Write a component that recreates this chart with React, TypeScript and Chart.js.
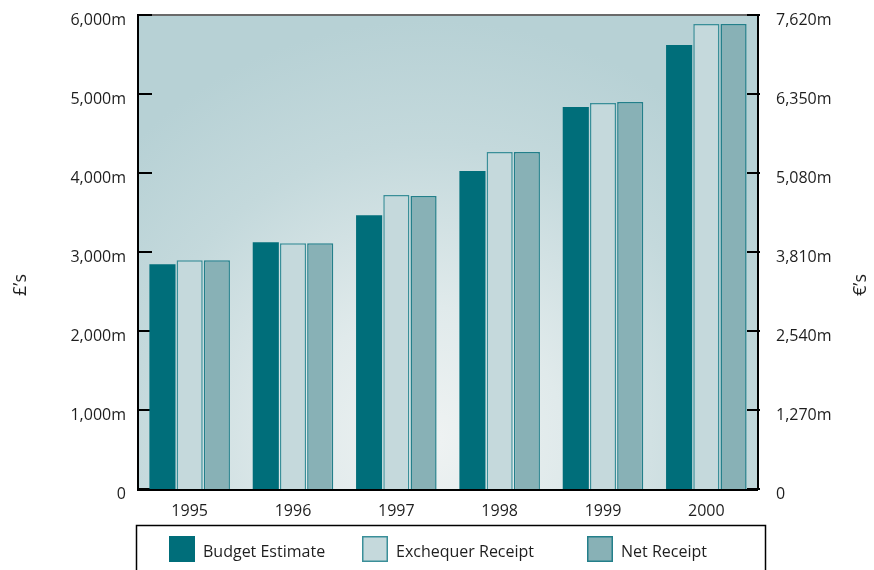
import React, { useEffect, useRef } from 'react';
import { Chart, registerables } from 'chart.js';

Chart.register(...registerables);

const categories = ['1995', '1996', '1997', '1998', '1999', '2000'];
const budgetEstimate = [2845, 3125, 3465, 4025, 4835, 5620];
const exchequerReceipt = [2895, 3112, 3722, 4266, 4886, 5886];
const netReceipt = [2895, 3112, 3709, 4266, 4899, 5886];
const poundTicks = [0, 1000, 2000, 3000, 4000, 5000, 6000];
const euroTicks = [0, 1270, 2540, 3810, 5080, 6350, 7620];
const seriesNames = ['Budget Estimate', 'Exchequer Receipt', 'Net Receipt'];
const leftTitle = '£’s';
const rightTitle = '€’s';

const FONT = "'Open Sans', 'Noto Sans', sans-serif";
const TEXT = '#1e1e1e';

const fmt = (v: number) => (v === 0 ? '0' : v.toLocaleString('en-US') + 'm');

const bgPlugin = {
  id: 'bg',
  beforeDraw(chart: any) {
    const { ctx, chartArea: a } = chart;
    ctx.save();
    const g = ctx.createRadialGradient(430, 440, 10, 430, 440, 420);
    g.addColorStop(0, '#eef2f2');
    g.addColorStop(0.3, '#e0eaeb');
    g.addColorStop(0.7, '#c4d9dc');
    g.addColorStop(1, '#b7d1d5');
    ctx.fillStyle = g;
    ctx.fillRect(a.left, a.top, a.right - a.left, a.bottom - a.top);
    ctx.strokeStyle = '#6a6a6a';
    ctx.lineWidth = 2;
    ctx.beginPath();
    ctx.moveTo(a.left, a.top);
    ctx.lineTo(a.right, a.top);
    ctx.stroke();
    ctx.restore();
  },
  beforeDatasetsDraw(chart: any) {
    const { ctx, chartArea: a, scales } = chart;
    ctx.save();
    ctx.strokeStyle = '#000';
    ctx.lineWidth = 2;
    scales.y.ticks.forEach((t: any) => {
      const y = Math.round(scales.y.getPixelForValue(t.value));
      ctx.beginPath();
      ctx.moveTo(a.left, y);
      ctx.lineTo(a.left + 14, y);
      ctx.stroke();
    });
    scales.y2.ticks.forEach((t: any) => {
      const y = Math.round(scales.y2.getPixelForValue(t.value));
      ctx.beginPath();
      ctx.moveTo(a.right - 11, y);
      ctx.lineTo(a.right + 2, y);
      ctx.stroke();
    });
    ctx.restore();
  },
  afterDatasetsDraw(chart: any) {
    const { ctx, chartArea: a } = chart;
    ctx.save();
    ctx.strokeStyle = '#000';
    ctx.lineWidth = 2;
    ctx.beginPath();
    ctx.moveTo(a.left, a.top - 1);
    ctx.lineTo(a.left, a.bottom + 1);
    ctx.lineTo(a.right, a.bottom + 1);
    ctx.moveTo(a.right, a.top - 1);
    ctx.lineTo(a.right, a.bottom + 1);
    ctx.stroke();
    ctx.restore();
  },
  afterDraw(chart: any) {
    const { ctx } = chart;
    ctx.save();
    ctx.fillStyle = TEXT;
    ctx.font = `18px ${FONT}`;
    ctx.textAlign = 'center';
    ctx.textBaseline = 'middle';
    const midY = 285;
    ctx.save();
    ctx.translate(21, midY);
    ctx.rotate(-Math.PI / 2);
    ctx.fillText(leftTitle, 0, 0);
    ctx.restore();
    ctx.save();
    ctx.translate(861, midY);
    ctx.rotate(-Math.PI / 2);
    ctx.fillText(rightTitle, 0, 0);
    ctx.restore();
    ctx.strokeStyle = '#000';
    ctx.lineWidth = 1.5;
    ctx.strokeRect(136.5, 525.5, 629, 60);
    const xs = [169, 362, 587];
    ctx.font = `16px ${FONT}`;
    ctx.textAlign = 'left';
    chart.data.datasets.forEach((ds: any, i: number) => {
      const x = xs[i];
      ctx.fillStyle = ds.backgroundColor;
      ctx.fillRect(x, 536, 26, 26);
      ctx.strokeStyle = ds.borderColor;
      ctx.lineWidth = 1.5;
      ctx.strokeRect(x + 0.75, 536.75, 24.5, 24.5);
      ctx.fillStyle = TEXT;
      ctx.fillText(ds.label, x + 34, 552);
    });
    ctx.restore();
  },
};

export default function App() {
  const ref = useRef<HTMLCanvasElement | null>(null);
  useEffect(() => {
    if (!ref.current) return;
    const common = { categoryPercentage: 0.79, barPercentage: 0.96 };
    const noPad = (scale: any) => {
      scale.paddingTop = 0;
      scale.paddingBottom = 0;
    };
    const chart = new Chart(ref.current, {
      type: 'bar',
      data: {
        labels: categories,
        datasets: [
          {
            label: seriesNames[0],
            data: budgetEstimate,
            backgroundColor: '#006e7a',
            borderColor: '#006e7a',
            borderWidth: 0,
            yAxisID: 'y',
            ...common,
          },
          {
            label: seriesNames[1],
            data: exchequerReceipt,
            backgroundColor: '#c5d9dc',
            borderColor: '#3a8f99',
            borderWidth: 1.5,
            yAxisID: 'y',
            ...common,
          },
          {
            label: seriesNames[2],
            data: netReceipt,
            backgroundColor: '#88b1b6',
            borderColor: '#237f8a',
            borderWidth: 1.5,
            yAxisID: 'y',
            ...common,
          },
        ],
      },
      options: {
        responsive: false,
        animation: false,
        devicePixelRatio: 1,
        layout: { padding: { top: 15, left: 0, right: 0, bottom: 0 } },
        plugins: { legend: { display: false }, tooltip: { enabled: false } },
        scales: {
          x: {
            type: 'category',
            grid: { display: false, drawTicks: false },
            border: { display: false },
            ticks: { color: TEXT, font: { family: FONT, size: 16 }, padding: 13 },
            afterFit(scale: any) {
              scale.height = 81;
            },
          },
          y: {
            type: 'linear',
            position: 'left',
            min: 0,
            max: 6000,
            grid: { display: false, drawTicks: false },
            border: { display: false },
            ticks: {
              color: TEXT,
              font: { family: FONT, size: 16 },
              padding: 12,
              labelOffset: 5,
              callback: (v: any) => fmt(Number(v)),
            },
            afterBuildTicks(scale: any) {
              scale.ticks = poundTicks.map((v) => ({ value: v }));
            },
            afterFit(scale: any) {
              scale.width = 138;
              noPad(scale);
            },
          },
          y2: {
            type: 'linear',
            position: 'right',
            min: 0,
            max: 7620,
            grid: { display: false, drawTicks: false },
            border: { display: false },
            ticks: {
              color: TEXT,
              font: { family: FONT, size: 16 },
              padding: 18,
              labelOffset: 5,
              callback: (v: any) => fmt(Number(v)),
            },
            afterBuildTicks(scale: any) {
              scale.ticks = euroTicks.map((v) => ({ value: v }));
            },
            afterFit(scale: any) {
              scale.width = 116;
              noPad(scale);
            },
          },
        },
      },
      plugins: [bgPlugin],
    } as any);
    return () => chart.destroy();
  }, []);
  return (
    <div style={{ position: 'absolute', left: 0, top: 0, width: 874, height: 570 }}>
      <canvas ref={ref} width={874} height={570} style={{ width: 874, height: 570, display: 'block' }} />
    </div>
  );
}
